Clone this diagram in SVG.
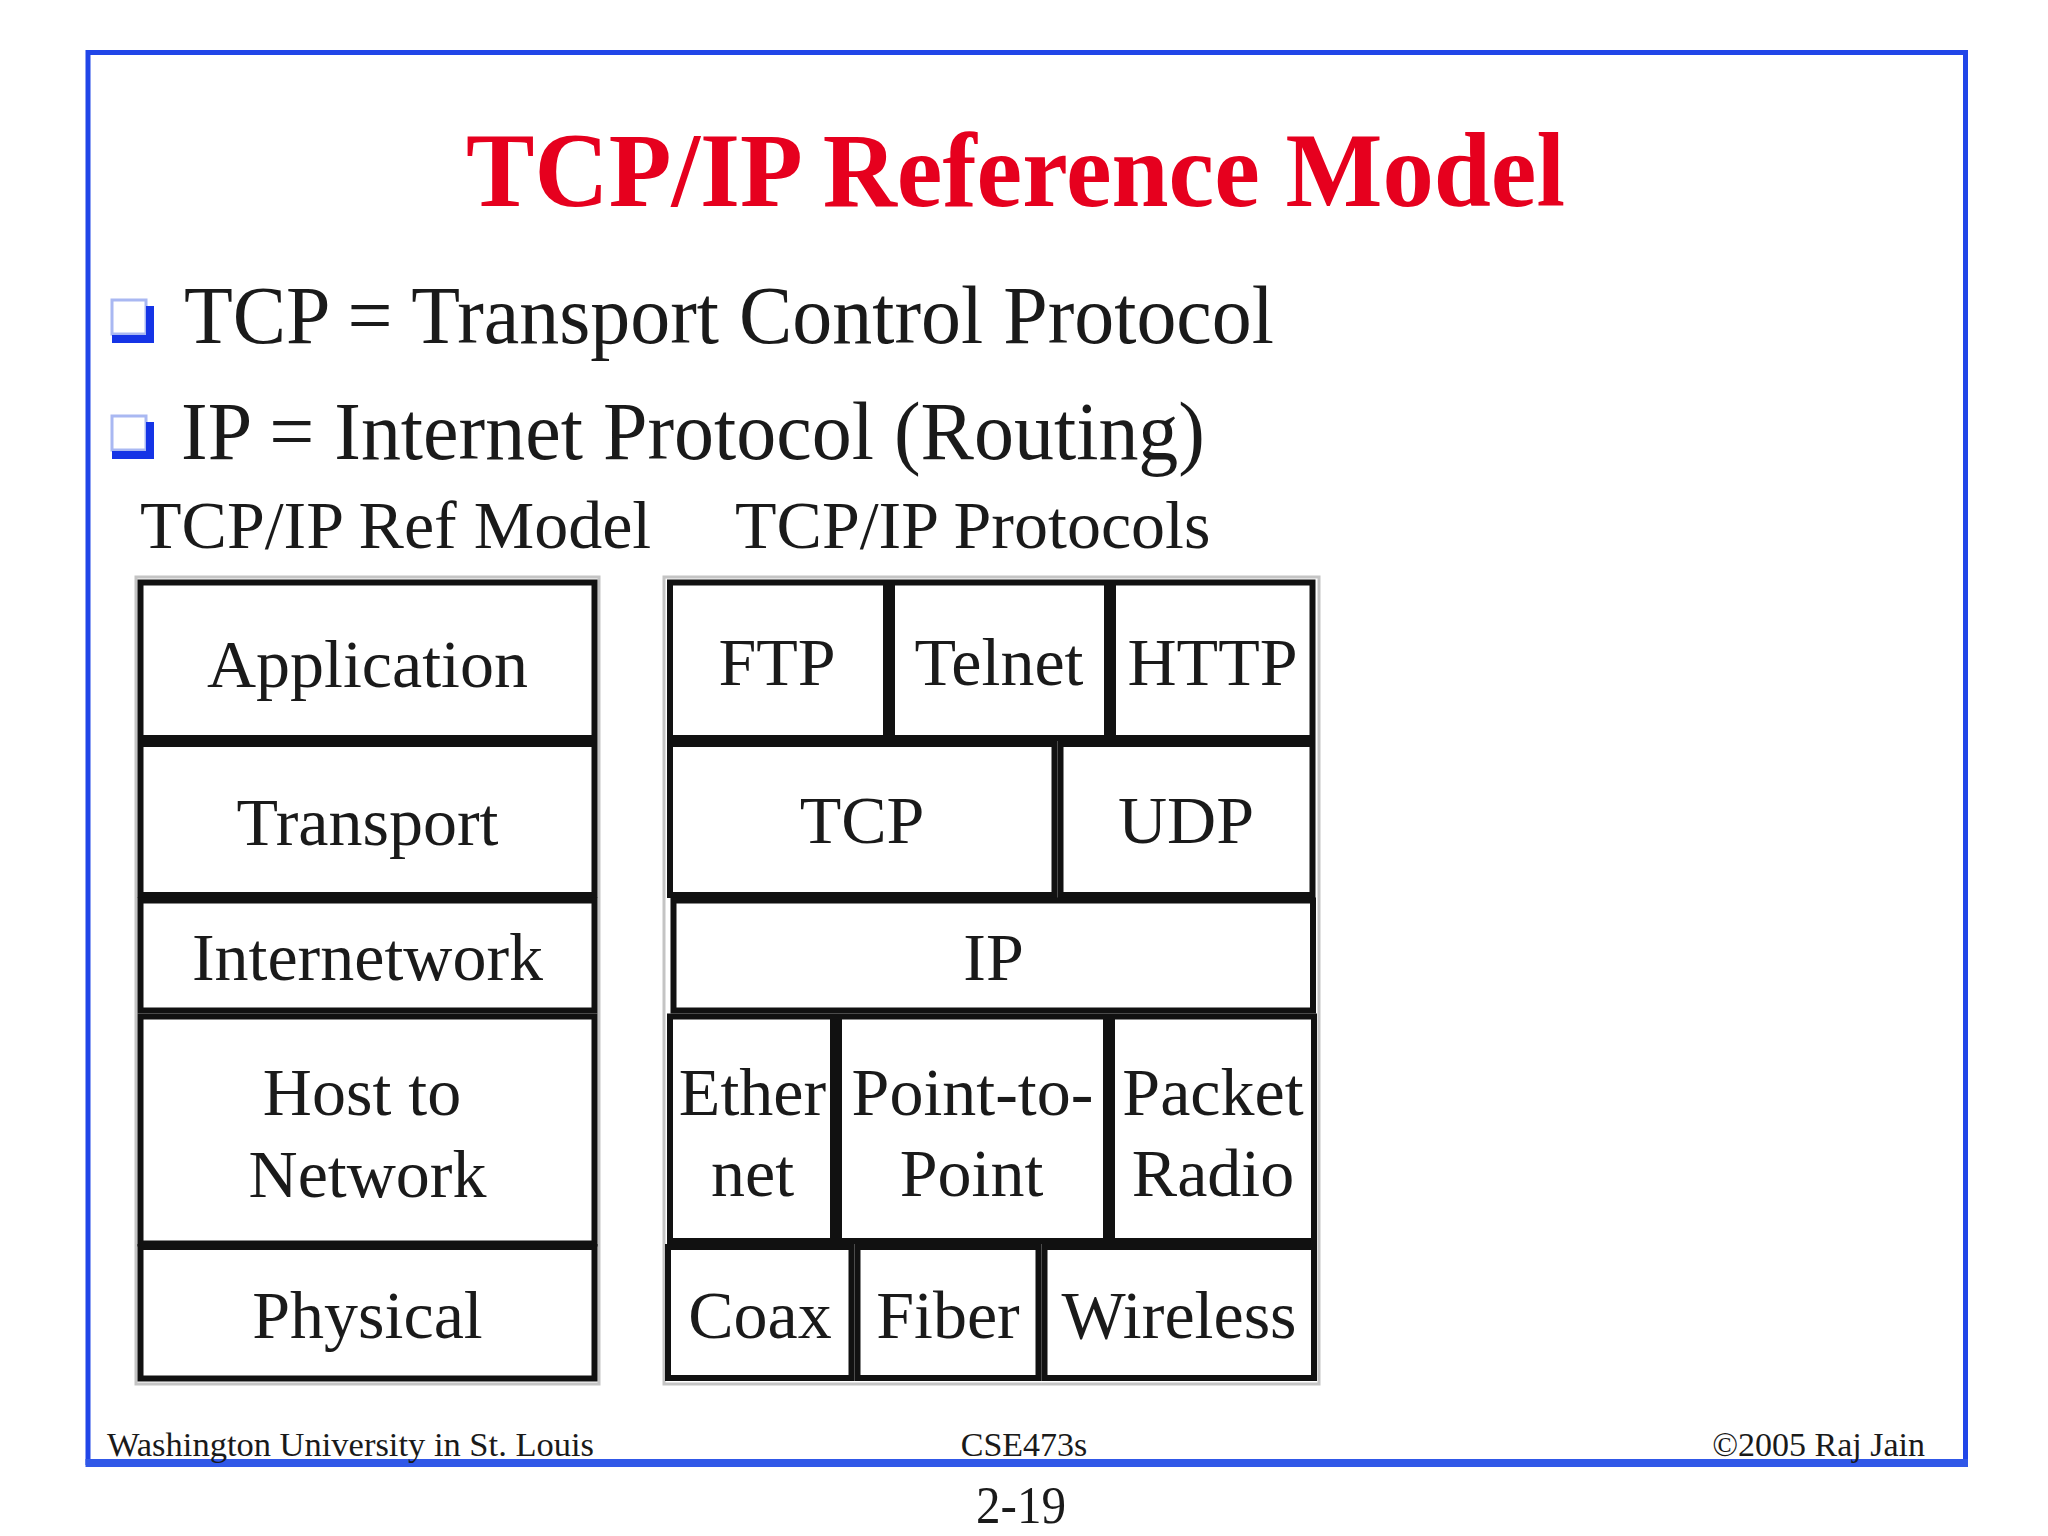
<svg xmlns="http://www.w3.org/2000/svg" width="2048" height="1536" viewBox="0 0 2048 1536">
<defs>
<style>
.t{font-family:"Liberation Serif","Times New Roman",serif;fill:#1a1a1a;}
.cell{fill:#ffffff;stroke:#111111;stroke-width:6;}
.halo{fill:none;stroke:#c4c4c4;stroke-width:3;}
.lbl{font-size:68px;text-anchor:middle;}
.foot{font-size:34px;}
</style>
</defs>
<rect x="0" y="0" width="2048" height="1536" fill="#ffffff"/>
<g id="frame">
<rect x="88" y="52.5" width="1877.5" height="1410" fill="none" stroke="#2146e8" stroke-width="5"/>
<line x1="85.5" y1="1463" x2="1968" y2="1463" stroke="#3058e8" stroke-width="8"/>
</g>
<g id="title">
<text x="466" y="206" font-family="Liberation Serif, Times New Roman, serif" font-weight="bold" font-size="106" fill="#e6001e" textLength="1099" lengthAdjust="spacingAndGlyphs">TCP/IP Reference Model</text>
</g>
<g id="bullets">
<rect x="112" y="300" width="34" height="34" fill="none" stroke="#a9b8f2" stroke-width="3"/>
<path d="M146 306 H154 V343 H112 V335 H146 Z" fill="#1534e6"/>
<text class="t" x="184" y="343" font-size="82" textLength="1090" lengthAdjust="spacingAndGlyphs">TCP = Transport Control Protocol</text>
<rect x="112" y="416" width="34" height="34" fill="none" stroke="#a9b8f2" stroke-width="3"/>
<path d="M146 422 H154 V459 H112 V451 H146 Z" fill="#1534e6"/>
<text class="t" x="181" y="459" font-size="82" textLength="1024" lengthAdjust="spacingAndGlyphs">IP = Internet Protocol (Routing)</text>
</g>
<g id="headers">
<text class="t" x="140" y="548" font-size="68">TCP/IP Ref Model</text>
<text class="t" x="735" y="548" font-size="68">TCP/IP Protocols</text>
</g>
<rect class="halo" x="136" y="577" width="463" height="807"/>
<rect class="halo" x="664" y="577" width="655" height="807"/>
<g id="ref-model">
<g id="layer-application"><rect class="cell" x="140.5" y="582.5" width="454" height="155.5"/><text class="t lbl" x="367.5" y="687">Application</text></g>
<g id="layer-transport"><rect class="cell" x="140.5" y="744" width="454" height="151"/><text class="t lbl" x="367.5" y="845">Transport</text></g>
<g id="layer-internetwork"><rect class="cell" x="140.5" y="900.5" width="454" height="110"/><text class="t lbl" x="367.5" y="980">Internetwork</text></g>
<g id="layer-host"><rect class="cell" x="140.5" y="1016.5" width="454" height="227"/><text class="t lbl" x="362" y="1115">Host to</text><text class="t lbl" x="367.5" y="1197">Network</text></g>
<g id="layer-physical"><rect class="cell" x="140.5" y="1247" width="454" height="131.5"/><text class="t lbl" x="367.5" y="1338">Physical</text></g>
</g>
<g id="protocols">
<g id="p-ftp"><rect class="cell" x="670" y="582.5" width="216" height="155.5"/><text class="t lbl" x="777" y="685">FTP</text></g>
<g id="p-telnet"><rect class="cell" x="892" y="582.5" width="215" height="155.5"/><text class="t lbl" x="999" y="685">Telnet</text></g>
<g id="p-http"><rect class="cell" x="1113" y="582.5" width="199.5" height="155.5"/><text class="t lbl" x="1212.5" y="685">HTTP</text></g>
<g id="p-tcp"><rect class="cell" x="670" y="744" width="384.5" height="151"/><text class="t lbl" x="862" y="843">TCP</text></g>
<g id="p-udp"><rect class="cell" x="1060.5" y="744" width="252" height="151"/><text class="t lbl" x="1186" y="843">UDP</text></g>
<g id="p-ip"><rect class="cell" x="673.5" y="900.5" width="639.5" height="110"/><text class="t lbl" x="993.5" y="980">IP</text></g>
<g id="p-ethernet"><rect class="cell" x="670" y="1016.5" width="163" height="224.5"/><text class="t lbl" x="752.5" y="1115">Ether</text><text class="t lbl" x="752.5" y="1196">net</text></g>
<g id="p-p2p"><rect class="cell" x="839" y="1016.5" width="267" height="224.5"/><text class="t lbl" x="972.5" y="1115">Point-to-</text><text class="t lbl" x="971.5" y="1196">Point</text></g>
<g id="p-packet"><rect class="cell" x="1112" y="1016.5" width="202" height="224.5"/><text class="t lbl" x="1213" y="1115">Packet</text><text class="t lbl" x="1213" y="1196">Radio</text></g>
<g id="p-coax"><rect class="cell" x="668" y="1247" width="183.5" height="131"/><text class="t lbl" x="760" y="1338">Coax</text></g>
<g id="p-fiber"><rect class="cell" x="857.5" y="1247" width="181" height="131"/><text class="t lbl" x="948" y="1338">Fiber</text></g>
<g id="p-wireless"><rect class="cell" x="1044.5" y="1247" width="269.5" height="131"/><text class="t lbl" x="1179" y="1338">Wireless</text></g>
</g>
<g id="connectors"/>
<g id="footer">
<text class="t foot" x="107" y="1456" textLength="487" lengthAdjust="spacingAndGlyphs">Washington University in St. Louis</text>
<text class="t foot" x="1024" y="1456" text-anchor="middle">CSE473s</text>
<text class="t foot" x="1925" y="1456" text-anchor="end">©2005 Raj Jain</text>
<text class="t" x="1021" y="1523" font-size="52" text-anchor="middle" textLength="90" lengthAdjust="spacingAndGlyphs">2-19</text>
</g>
</svg>
